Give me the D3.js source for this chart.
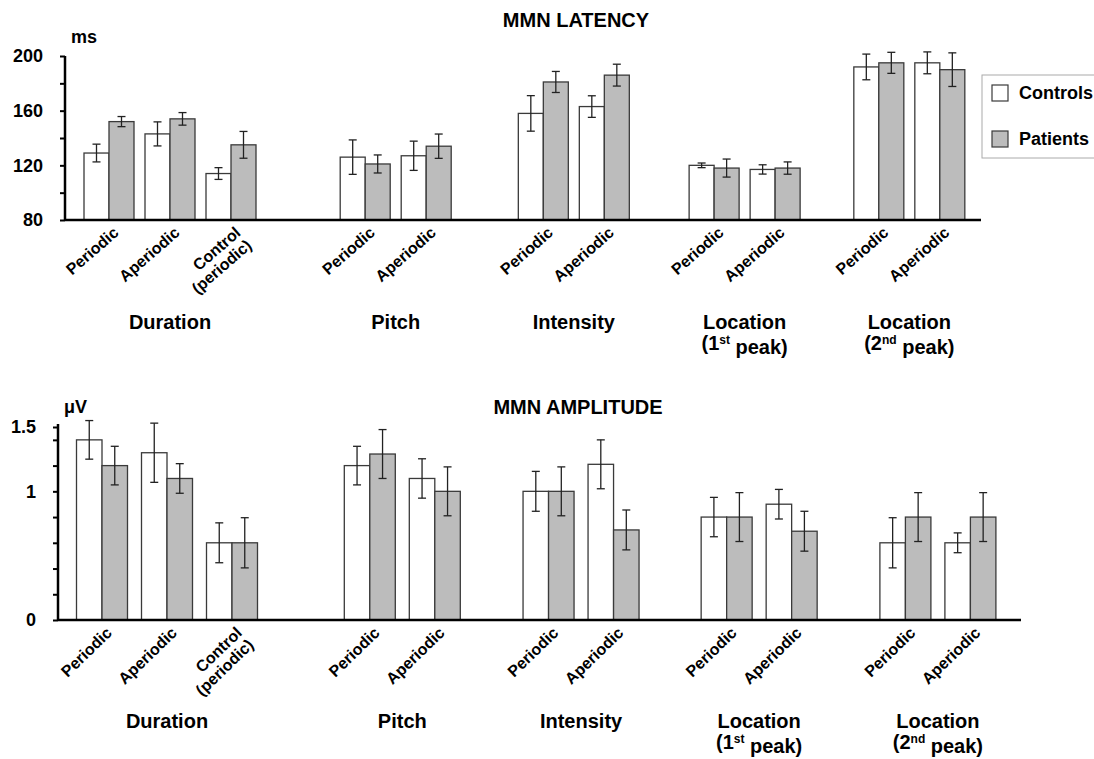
<!DOCTYPE html>
<html>
<head>
<meta charset="utf-8">
<script src="https://cdn.jsdelivr.net/npm/d3@7"></script>
<style>
  body { margin: 0; background: #fff; }
  text { font-family: "Liberation Sans", Arial, sans-serif; font-weight: bold; fill: #000; }
</style>
</head>
<body>
<div id="chart"></div>
<script>
// data
var groups = ["Duration", "Pitch", "Intensity", "Location", "Location"];
var groupSub = [null, null, null, ["1", "st"], ["2", "nd"]];
var conditions = [
  ["Periodic", "Aperiodic", "Control|(periodic)"],
  ["Periodic", "Aperiodic"],
  ["Periodic", "Aperiodic"],
  ["Periodic", "Aperiodic"],
  ["Periodic", "Aperiodic"]
];
var seriesNames = ["Controls", "Patients"];

var latencyControls    = [129, 143, 114, 126, 127, 158, 163, 120, 117, 192, 195];
var latencyControlsErr = [6.5, 8.8, 4.3, 12.6, 10.7, 13, 7.9, 1.7, 3.4, 9.4, 8];
var latencyPatients    = [152, 154, 135, 121, 134, 181, 186, 118, 118, 195, 190];
var latencyPatientsErr = [3.7, 4.6, 9.8, 6.6, 8.9, 7.7, 8, 6.6, 4.5, 7.7, 12.3];
var latencyTicks = [80, 120, 160, 200];

var ampControls    = [1.40, 1.30, 0.60, 1.20, 1.10, 1.00, 1.21, 0.80, 0.90, 0.60, 0.60];
var ampControlsErr = [0.15, 0.23, 0.155, 0.15, 0.153, 0.155, 0.19, 0.153, 0.115, 0.195, 0.077];
var ampPatients    = [1.20, 1.10, 0.60, 1.29, 1.00, 1.00, 0.70, 0.80, 0.69, 0.80, 0.80];
var ampPatientsErr = [0.15, 0.115, 0.195, 0.19, 0.19, 0.19, 0.155, 0.19, 0.155, 0.19, 0.19];
var ampTicks = [0, 1, 1.5];

var W = 1094, H = 759;
var svg = d3.select("#chart").append("svg")
    .attr("width", W).attr("height", H);

// flatten categories with slot positions (step 1 inside a group, wider gap between groups)
function slots(gaps) {
  var out = [], s = 0;
  conditions.forEach(function (conds, g) {
    if (g > 0) s += gaps[g - 1]; 
    conds.forEach(function (c, i) {
      if (i > 0) s += 1;
      out.push({group: g, label: c, slot: s});
    });
  });
  return out;
}

function panel(o) {
  var cats = slots(o.gaps);
  var x = d3.scaleLinear().domain([0, 1]).range([o.x0, o.x0 + o.step]);
  var y = d3.scaleLinear().domain(o.domain).range([o.bottom, o.top]);
  var bw = o.bw;
  var g = svg.append("g");

  // title + unit
  g.append("text").attr("x", o.titleX).attr("y", o.titleY)
    .attr("text-anchor", "middle").style("font-size", "20px").text(o.title);
  g.append("text").attr("x", o.axisX + 6).attr("y", o.unitY)
    .style("font-size", "18px").text(o.unit);

  var rows = cats.map(function (c, i) {
    return {c: c, cx: x(c.slot), v: [o.controls[i], o.patients[i]], e: [o.controlsErr[i], o.patientsErr[i]]};
  });

  // bars
  rows.forEach(function (r) {
    [0, 1].forEach(function (k) {
      g.append("rect")
        .attr("x", k === 0 ? r.cx - bw : r.cx)
        .attr("y", y(r.v[k]))
        .attr("width", bw)
        .attr("height", y(o.domain[0]) - y(r.v[k]))
        .attr("fill", k === 0 ? "#fff" : "#bcbcbc")
        .attr("stroke", "#3a3a3a").attr("stroke-width", 1.3);
    });
  });
  // error bars
  rows.forEach(function (r) {
    [0, 1].forEach(function (k) {
      var ex = k === 0 ? r.cx - bw / 2 : r.cx + bw / 2;
      var hi = y(r.v[k] + r.e[k]), lo = y(r.v[k] - r.e[k]);
      var eg = g.append("g").attr("stroke", "#222").attr("stroke-width", 1.3);
      eg.append("line").attr("x1", ex).attr("x2", ex).attr("y1", hi).attr("y2", lo);
      eg.append("line").attr("x1", ex - 4).attr("x2", ex + 4).attr("y1", hi).attr("y2", hi);
      eg.append("line").attr("x1", ex - 4).attr("x2", ex + 4).attr("y1", lo).attr("y2", lo);
    });
  });

  // y axis
  var ya = g.append("g").attr("transform", "translate(" + o.axisX + ",0)")
    .call(d3.axisLeft(y).tickValues(o.minorTicks).tickSize(5).tickFormat(""));
  ya.select(".domain").attr("stroke", "#000").attr("stroke-width", 2.5)
    .attr("d", "M0," + (o.top - o.ext) + "V" + o.bottom);
  ya.selectAll(".tick line").attr("stroke", "#000").attr("stroke-width", 2);
  g.selectAll(".ylab").data(o.ticks).enter().append("text")
    .attr("x", o.axisX - 22).attr("y", function (d) { return y(d); })
    .attr("dy", "0.36em").attr("text-anchor", "end")
    .style("font-size", "18px").text(function (d) { return d; });

  // x axis line
  g.append("line").attr("x1", o.axisX).attr("x2", o.axisEnd)
    .attr("y1", o.bottom).attr("y2", o.bottom)
    .attr("stroke", "#000").attr("stroke-width", 2.5);

  // condition labels
  rows.forEach(function (r) {
    var t = g.append("text")
      .attr("transform", "translate(" + (r.cx + 7) + "," + (o.bottom + 10) + ") rotate(" + o.rot + ")")
      .attr("text-anchor", "end").style("font-size", "16px");
    var parts = r.c.label.split("|");
    parts.forEach(function (p, i) {
      t.append("tspan").attr("x", 0).attr("dy", i === 0 ? "0.35em" : "1.05em").text(p);
    });
  });

  // group labels
  groups.forEach(function (name, gi) {
    var xs = rows.filter(function (r) { return r.c.group === gi; }).map(function (r) { return r.cx; });
    var cx = (d3.min(xs) + d3.max(xs)) / 2;
    g.append("text").attr("x", cx).attr("y", o.groupY).attr("text-anchor", "middle")
      .style("font-size", "20px").text(name);
    if (groupSub[gi]) {
      var t = g.append("text").attr("x", cx).attr("y", o.groupY + 21).attr("text-anchor", "middle")
        .style("font-size", "20px");
      t.append("tspan").text("(" + groupSub[gi][0]);
      t.append("tspan").attr("dy", "-0.5em").style("font-size", "12px").text(groupSub[gi][1]);
      t.append("tspan").attr("dy", "0.5em").text(" peak)");
    }
  });
}

panel({
  title: "MMN LATENCY", titleX: 576, titleY: 27, unit: "ms", unitY: 43,
  domain: [80, 200], top: 56, bottom: 220, ext: 0,
  minorTicks: d3.range(80, 201, 20), ticks: latencyTicks,
  axisX: 65, axisEnd: 981, x0: 109, step: 61, gaps: [2.2, 1.92, 1.8, 1.7], bw: 25,
  controls: latencyControls, controlsErr: latencyControlsErr,
  patients: latencyPatients, patientsErr: latencyPatientsErr,
  rot: -41, groupY: 329
});

panel({
  title: "MMN AMPLITUDE", titleX: 578, titleY: 414, unit: "μV", unitY: 413,
  domain: [0, 1.5], top: 427, bottom: 620, ext: 3,
  minorTicks: [0, 0.2, 0.4, 0.6, 0.8, 1, 1.2, 1.4, 1.5], ticks: ampTicks,
  axisX: 58, axisEnd: 1021, x0: 102, step: 65, gaps: [2.12, 1.75, 1.74, 1.75], bw: 25.5,
  controls: ampControls, controlsErr: ampControlsErr,
  patients: ampPatients, patientsErr: ampPatientsErr,
  rot: -44, groupY: 728
});

// legend
var lg = svg.append("g").attr("transform", "translate(982,75)");
lg.append("rect").attr("width", 130).attr("height", 83)
  .attr("fill", "#fff").attr("stroke", "#aaa").attr("stroke-width", 1);
seriesNames.forEach(function (s, i) {
  lg.append("rect").attr("x", 10).attr("y", 10 + i * 46).attr("width", 16).attr("height", 16)
    .attr("fill", i === 0 ? "#fff" : "#bcbcbc").attr("stroke", "#3a3a3a").attr("stroke-width", 1.2);
  lg.append("text").attr("x", 37).attr("y", 18 + i * 46).attr("dy", "0.36em")
    .style("font-size", "18px").text(s);
});
</script>
</body>
</html>
